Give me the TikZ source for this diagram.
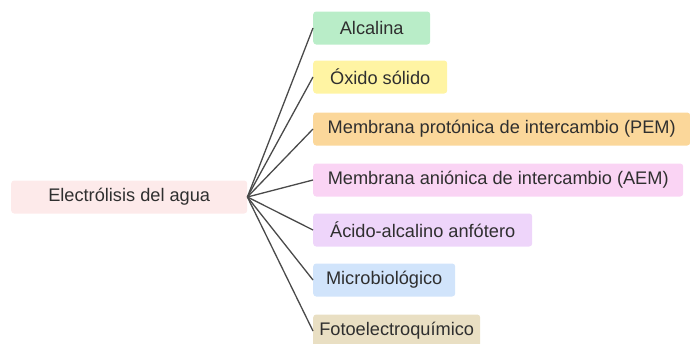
\documentclass[tikz,border=0pt]{standalone}
\usepackage{fontspec}
\setmainfont{Liberation Sans}
\usetikzlibrary{positioning}
\definecolor{rootpink}{HTML}{FDEAEA}
\definecolor{alcgreen}{HTML}{B9EDC8}
\definecolor{oxiyellow}{HTML}{FFF4A3}
\definecolor{pemorange}{HTML}{FBD79A}
\definecolor{aempink}{HTML}{FAD4F4}
\definecolor{acidlilac}{HTML}{EED5FA}
\definecolor{microblue}{HTML}{D1E4FB}
\definecolor{fototan}{HTML}{E9DFC3}
\definecolor{textgray}{HTML}{2F2F2F}
\definecolor{linegray}{HTML}{4A4A4A}

\begin{document}
\begin{tikzpicture}[x=1pt,y=-1pt,
	box/.style={anchor=west,rounded corners=3pt,minimum height=33pt,inner sep=0pt,
		text=textgray,font=\fontsize{18.2}{20}\selectfont},
	edge/.style={draw=linegray,line width=1.3pt}]
	\useasboundingbox (0,0) rectangle (690,343);
	\node[box,fill=rootpink,minimum width=236pt] (root) at (11,197) {Electrólisis del agua};
	\node[box,fill=alcgreen,minimum width=117pt] (alc) at (313,28) {Alcalina};
	\node[box,fill=oxiyellow,minimum width=134pt] (oxi) at (313,77) {Óxido sólido};
	\node[box,fill=pemorange,minimum width=377pt] (pem) at (313,129) {Membrana protónica de intercambio (PEM)};
	\node[box,fill=aempink,minimum width=370pt] (aem) at (313,180) {Membrana aniónica de intercambio (AEM)};
	\node[box,fill=acidlilac,minimum width=219pt] (acid) at (313,230) {Ácido-alcalino anfótero};
	\node[box,fill=microblue,minimum width=142pt] (micro) at (313,280) {Microbiológico};
	\node[box,fill=fototan,minimum width=167pt] (foto) at (313,331) {Fotoelectroquímico};
	\foreach \n in {alc,oxi,pem,aem,acid,micro,foto}
		\draw[edge] (root.east) -- (\n.west);
\end{tikzpicture}
\end{document}
